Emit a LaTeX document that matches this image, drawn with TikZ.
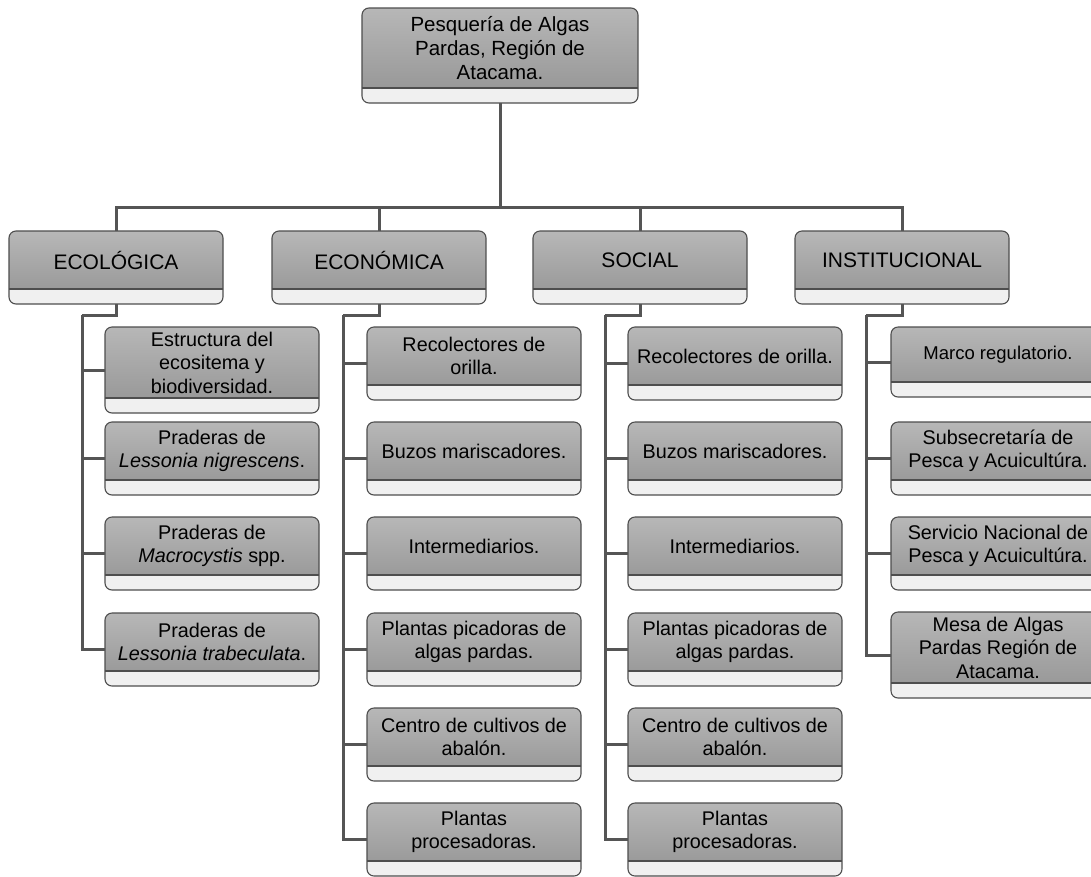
\documentclass[tikz,border=0pt]{standalone}
\usepackage{fontspec}
\setmainfont{Liberation Sans}
\usetikzlibrary{calc}
\definecolor{gtop}{HTML}{B7B7B7}
\definecolor{gbot}{HTML}{939393}
\definecolor{strip}{HTML}{F0F0F0}
\definecolor{edge}{HTML}{4E4E4E}
\definecolor{conn}{HTML}{555555}
\newcommand\bxcontent[4]{\vbox to #2{\hsize=#1\relax\vbox to #3{\hsize=#1\relax\parindent=0pt\centering\vfil\noindent #4\par\vfil}\vfil}}
\tikzset{
  bx/.style={draw=edge, line width=1.1pt, rounded corners=7pt, fill=strip,
    inner sep=0pt, outer sep=0pt, anchor=north west,
    font=\fontsize{19.8}{23.5}\selectfont,
    path picture={
      \shade[sharp corners,top color=gtop,bottom color=gbot]
        (path picture bounding box.north west) rectangle ([yshift=15pt]path picture bounding box.south east);
      \draw[sharp corners,edge,line width=1.4pt]
        ([yshift=15pt]path picture bounding box.south west) -- ([yshift=15pt]path picture bounding box.south east);
    }},
  lvl/.style={font=\fontsize{21}{24}\selectfont},
  cn/.style={draw=conn, line width=3pt}
}
\newcommand\bx[6][]{\node[bx,#1] (#2) at (#3,#4) {\bxcontent{214pt}{#5pt}{\dimexpr#5pt-15pt\relax}{#6}};}
\begin{document}
\begin{tikzpicture}[x=1pt,y=-1pt]
\useasboundingbox (0,0) rectangle (1091,876);
\clip (0,0) rectangle (1091,876);
\fill[white] (0,0) rectangle (1091,876);

% top
\node[bx,font=\fontsize{20.5}{24}\selectfont] (top) at (362,8)
  {\bxcontent{276pt}{95pt}{80pt}{Pesquería de Algas\\Pardas, Región de\\Atacama.}};

% level 1
\bx[lvl]{eco}{9}{231}{73}{ECOLÓGICA}
\bx[lvl]{econ}{272}{231}{73}{ECONÓMICA}
\bx[lvl]{soc}{533}{231}{73}{SOCIAL}
\bx[lvl]{inst}{795}{231}{73}{INSTITUCIONAL}

% ecologica children
\bx{e1}{105}{327}{86}{Estructura del\\ecositema y\\biodiversidad.}
\bx{e2}{105}{422}{73}{Praderas de\\\textit{Lessonia nigrescens}.}
\bx{e3}{105}{517}{73}{Praderas de\\\textit{Macrocystis} spp.}
\bx{e4}{105}{613}{73}{Praderas de\\\textit{Lessonia trabeculata}.}

% economica children
\bx{c1}{367}{327}{73}{Recolectores de\\orilla.}
\bx{c2}{367}{422}{73}{Buzos mariscadores.}
\bx{c3}{367}{517}{73}{Intermediarios.}
\bx{c4}{367}{613}{73}{Plantas picadoras de\\algas pardas.}
\bx{c5}{367}{708}{73}{Centro de cultivos de\\abalón.}
\bx{c6}{367}{803}{73}{Plantas\\procesadoras.}

% social children
\bx{s1}{628}{327}{73}{Recolectores de orilla.}
\bx{s2}{628}{422}{73}{Buzos mariscadores.}
\bx{s3}{628}{517}{73}{Intermediarios.}
\bx{s4}{628}{613}{73}{Plantas picadoras de\\algas pardas.}
\bx{s5}{628}{708}{73}{Centro de cultivos de\\abalón.}
\bx{s6}{628}{803}{73}{Plantas\\procesadoras.}

% institucional children
\bx{i1}{891}{327}{70}{{\fontsize{18.5}{22}\selectfont Marco regulatorio.}}
\bx{i2}{891}{422}{73}{Subsecretaría de\\Pesca y Acuicultúra.}
\bx{i3}{891}{517}{73}{Servicio Nacional de\\Pesca y Acuicultúra.}
\bx{i4}{891}{612}{86}{Mesa de Algas\\Pardas Región de\\Atacama.}

% connectors
\coordinate (bus) at (501,207);
\draw[cn] (top.south) -- (top.south |- bus);
\foreach \n in {eco,econ,soc,inst} \draw[cn] (top.south |- bus) -| (\n.north);

\coordinate (ecoA) at (82,315);
\coordinate (econA) at (343,315);
\coordinate (socA) at (605,315);
\coordinate (instA) at (866,315);
\draw[cn] (eco.south) |- (ecoA);
\draw[cn] (econ.south) |- (econA);
\draw[cn] (soc.south) |- (socA);
\draw[cn] (inst.south) |- (instA);
\foreach \c in {e1,e2,e3,e4} \draw[cn] (ecoA) |- (\c.west);
\foreach \c in {c1,c2,c3,c4,c5,c6} \draw[cn] (econA) |- (\c.west);
\foreach \c in {s1,s2,s3,s4,s5,s6} \draw[cn] (socA) |- (\c.west);
\foreach \c in {i1,i2,i3,i4} \draw[cn] (instA) |- (\c.west);
\end{tikzpicture}
\end{document}
